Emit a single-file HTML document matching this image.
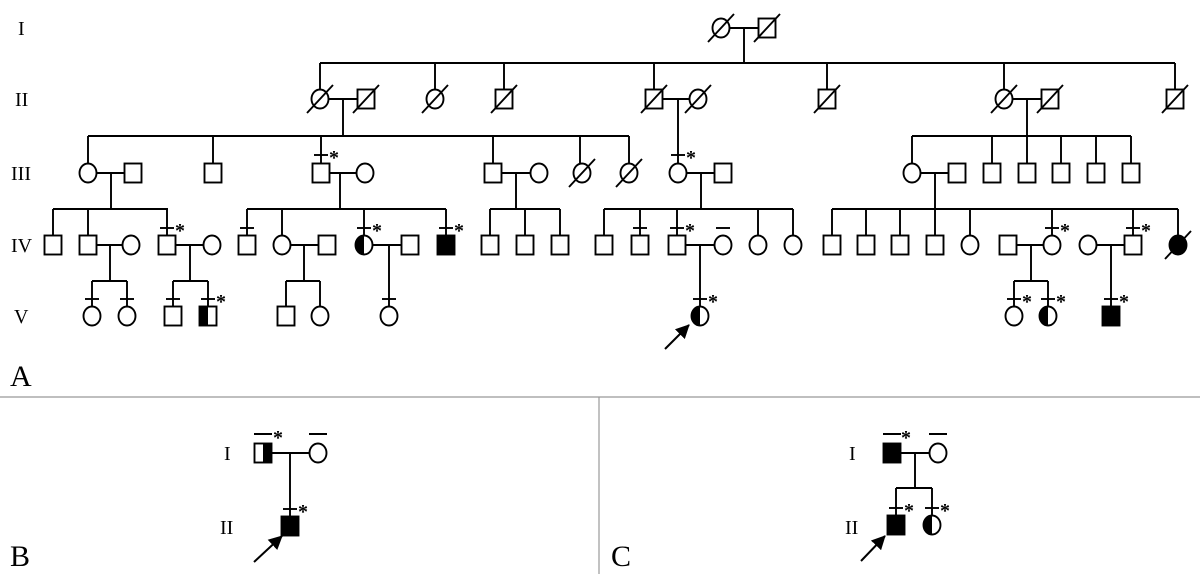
<!DOCTYPE html>
<html><head><meta charset="utf-8"><style>
html,body{margin:0;padding:0;background:#fff}
svg{display:block}
text{font-family:"Liberation Serif",serif;fill:#000}
.st{font-family:"Liberation Serif",serif;font-weight:bold;font-size:20px}
</style></head><body>
<svg width="1200" height="574" viewBox="0 0 1200 574" xmlns="http://www.w3.org/2000/svg">
<defs>
<rect id="S" x="-8.5" y="-9.5" width="17" height="19" fill="#fff" stroke="#000" stroke-width="1.9"/>
<rect id="SF" x="-8.5" y="-9.5" width="17" height="19" fill="#000" stroke="#000" stroke-width="1.9"/>
<ellipse id="C" rx="8.5" ry="9.5" fill="#fff" stroke="#000" stroke-width="1.9"/>
<ellipse id="CF" rx="8.5" ry="9.5" fill="#000" stroke="#000" stroke-width="1.9"/>
<g id="CH"><ellipse rx="8.5" ry="9.5" fill="#fff" stroke="#000" stroke-width="1.9"/><path d="M0,-9.5 A8.5,9.5 0 0 0 0,9.5 Z" fill="#000"/></g>
<g id="SH"><rect x="-8.5" y="-9.5" width="17" height="19" fill="#fff" stroke="#000" stroke-width="1.9"/><rect x="-8.5" y="-9.5" width="8.5" height="19" fill="#000"/></g>
<g id="SHR"><rect x="-8.5" y="-9.5" width="17" height="19" fill="#fff" stroke="#000" stroke-width="1.9"/><rect x="0" y="-9.5" width="8.5" height="19" fill="#000"/></g>
<line id="D" x1="-13" y1="14" x2="13" y2="-14" stroke="#000" stroke-width="1.9"/>
<line id="T" x1="-7" y1="-17" x2="7" y2="-17" stroke="#000" stroke-width="1.9"/>
<marker id="ah" markerWidth="14" markerHeight="14" refX="13" refY="7" orient="auto" markerUnits="userSpaceOnUse"><path d="M0,0 L14,7 L0,14 Z" fill="#000"/></marker>
</defs>

<g font-size="20">
<text x="18" y="35">I</text><text x="15" y="106">II</text><text x="11" y="180">III</text><text x="11" y="252">IV</text><text x="14" y="323">V</text>
</g>
<text x="10" y="386" font-size="30">A</text>
<text x="10" y="566" font-size="30">B</text>
<text x="611" y="566" font-size="30">C</text>
<line x1="0" y1="397" x2="1200" y2="397" stroke="#999" stroke-width="1.2"/>
<line x1="599" y1="397" x2="599" y2="574" stroke="#999" stroke-width="1.2"/>

<g stroke="#000" stroke-width="1.9" fill="none">
<path d="M729.5,28H758.5M744,28V63"/>
<path d="M320,63H1175M320,63V89.5M435,63V89.5M504,63V89.5M654,63V89.5M827,63V89.5M1004,63V89.5M1175,63V89.5"/>
<path d="M328.5,99H357.5M343,99V136M662.5,99H689.5M678,99V163.5M1012.5,99H1041.5M1027,99V136"/>
<path d="M88,136H629M88,136V163.5M213,136V163.5M321,136V163.5M493,136V163.5M580,136V163.5M629,136V163.5"/>
<path d="M912,136H1131M912,136V163.5M992,136V163.5M1027,136V163.5M1061,136V163.5M1096,136V163.5M1131,136V163.5"/>
<path d="M96.5,173H124.5M111,173V209M329.5,173H356.5M340,173V209M501.5,173H530.5M516,173V209M686.5,173H714.5M701,173V209M920.5,173H948.5M935,173V209"/>
<path d="M53,209H168M53,209V235.5M88,209V235.5M167,209V235.5"/>
<path d="M247,209H446M247,209V235.5M282,209V235.5M364,209V235.5M446,209V235.5"/>
<path d="M490,209H560M490,209V235.5M525,209V235.5M560,209V235.5"/>
<path d="M604,209H793M604,209V235.5M640,209V235.5M677,209V235.5M758,209V235.5M793,209V235.5"/>
<path d="M832,209H1178M832,209V235.5M866,209V235.5M900,209V235.5M935,209V235.5M970,209V235.5M1052,209V235.5M1133,209V235.5M1178,209V235.5"/>
<path d="M96.5,245H122.5M110,245V281M175.5,245H203.5M190,245V281M290.5,245H318.5M304,245V281M372.5,245H401.5M389,245V306.5M685.5,245H714.5M700,245V306.5M1016.5,245H1043.5M1031,245V281M1096.5,245H1124.5M1111,245V306.5"/>
<path d="M92,281H127M92,281V306.5M127,281V306.5M173,281H208M173,281V306.5M208,281V306.5M286,281H320M286,281V306.5M320,281V306.5M1014,281H1048M1014,281V306.5M1048,281V306.5"/>
<path d="M271.5,453H309.5M290,453V516.5M254,434H272M309,434H327"/>
<path d="M900.5,453H929.5M915,453V488M896,488H932M896,488V515.5M932,488V515.5M883,434H901M929,434H947"/>
</g>

<use href="#C" x="721" y="28"/><use href="#D" x="721" y="28"/>
<use href="#S" x="767" y="28"/><use href="#D" x="767" y="28"/>
<use href="#C" x="320" y="99"/><use href="#D" x="320" y="99"/>
<use href="#S" x="366" y="99"/><use href="#D" x="366" y="99"/>
<use href="#C" x="435" y="99"/><use href="#D" x="435" y="99"/>
<use href="#S" x="504" y="99"/><use href="#D" x="504" y="99"/>
<use href="#S" x="654" y="99"/><use href="#D" x="654" y="99"/>
<use href="#C" x="698" y="99"/><use href="#D" x="698" y="99"/>
<use href="#S" x="827" y="99"/><use href="#D" x="827" y="99"/>
<use href="#C" x="1004" y="99"/><use href="#D" x="1004" y="99"/>
<use href="#S" x="1050" y="99"/><use href="#D" x="1050" y="99"/>
<use href="#S" x="1175" y="99"/><use href="#D" x="1175" y="99"/>
<use href="#C" x="88" y="173"/><use href="#S" x="133" y="173"/>
<use href="#S" x="213" y="173"/>
<use href="#S" x="321" y="173"/><use href="#T" x="321" y="172"/><text class="st" x="329" y="164">*</text>
<use href="#C" x="365" y="173"/>
<use href="#S" x="493" y="173"/><use href="#C" x="539" y="173"/>
<use href="#C" x="582" y="173"/><use href="#D" x="582" y="173"/>
<use href="#C" x="629" y="173"/><use href="#D" x="629" y="173"/>
<use href="#C" x="678" y="173"/><use href="#T" x="678" y="172"/><text class="st" x="686" y="164">*</text>
<use href="#S" x="723" y="173"/>
<use href="#C" x="912" y="173"/><use href="#S" x="957" y="173"/>
<use href="#S" x="992" y="173"/><use href="#S" x="1027" y="173"/><use href="#S" x="1061" y="173"/><use href="#S" x="1096" y="173"/><use href="#S" x="1131" y="173"/>
<use href="#S" x="53" y="245"/><use href="#S" x="88" y="245"/><use href="#C" x="131" y="245"/>
<use href="#S" x="167" y="245"/><use href="#T" x="167" y="245"/><text class="st" x="175" y="237">*</text>
<use href="#C" x="212" y="245"/>
<use href="#S" x="247" y="245"/><use href="#T" x="247" y="245"/>
<use href="#C" x="282" y="245"/><use href="#S" x="327" y="245"/>
<use href="#CH" x="364" y="245"/><use href="#T" x="364" y="245"/><text class="st" x="372" y="237">*</text>
<use href="#S" x="410" y="245"/>
<use href="#SF" x="446" y="245"/><use href="#T" x="446" y="245"/><text class="st" x="454" y="237">*</text>
<use href="#S" x="490" y="245"/><use href="#S" x="525" y="245"/><use href="#S" x="560" y="245"/>
<use href="#S" x="604" y="245"/>
<use href="#S" x="640" y="245"/><use href="#T" x="640" y="245"/>
<use href="#S" x="677" y="245"/><use href="#T" x="677" y="245"/><text class="st" x="685" y="237">*</text>
<use href="#C" x="723" y="245"/><use href="#T" x="723" y="245"/>
<use href="#C" x="758" y="245"/><use href="#C" x="793" y="245"/>
<use href="#S" x="832" y="245"/><use href="#S" x="866" y="245"/><use href="#S" x="900" y="245"/><use href="#S" x="935" y="245"/>
<use href="#C" x="970" y="245"/>
<use href="#S" x="1008" y="245"/>
<use href="#C" x="1052" y="245"/><use href="#T" x="1052" y="245"/><text class="st" x="1060" y="237">*</text>
<use href="#C" x="1088" y="245"/>
<use href="#S" x="1133" y="245"/><use href="#T" x="1133" y="245"/><text class="st" x="1141" y="237">*</text>
<use href="#CF" x="1178" y="245"/><use href="#D" x="1178" y="245"/>
<use href="#C" x="92" y="316"/><use href="#T" x="92" y="316"/>
<use href="#C" x="127" y="316"/><use href="#T" x="127" y="316"/>
<use href="#S" x="173" y="316"/><use href="#T" x="173" y="316"/>
<use href="#SH" x="208" y="316"/><use href="#T" x="208" y="316"/><text class="st" x="216" y="308">*</text>
<use href="#S" x="286" y="316"/><use href="#C" x="320" y="316"/>
<use href="#C" x="389" y="316"/><use href="#T" x="389" y="316"/>
<use href="#CH" x="700" y="316"/><use href="#T" x="700" y="316"/><text class="st" x="708" y="308">*</text>
<use href="#C" x="1014" y="316"/><use href="#T" x="1014" y="316"/><text class="st" x="1022" y="308">*</text>
<use href="#CH" x="1048" y="316"/><use href="#T" x="1048" y="316"/><text class="st" x="1056" y="308">*</text>
<use href="#SF" x="1111" y="316"/><use href="#T" x="1111" y="316"/><text class="st" x="1119" y="308">*</text>
<line x1="665" y1="349" x2="689" y2="325" stroke="#000" stroke-width="2" marker-end="url(#ah)"/>

<g font-size="20"><text x="224" y="460">I</text><text x="220" y="534">II</text></g>
<use href="#SHR" x="263" y="453"/><use href="#C" x="318" y="453"/>
<text class="st" x="273" y="444">*</text>
<use href="#SF" x="290" y="526"/><use href="#T" x="290" y="526"/><text class="st" x="298" y="518">*</text>
<line x1="254" y1="562" x2="282" y2="536" stroke="#000" stroke-width="2" marker-end="url(#ah)"/>

<g font-size="20"><text x="849" y="460">I</text><text x="845" y="534">II</text></g>
<use href="#SF" x="892" y="453"/><use href="#C" x="938" y="453"/>
<text class="st" x="901" y="444">*</text>
<use href="#SF" x="896" y="525"/><use href="#T" x="896" y="525"/><text class="st" x="904" y="517">*</text>
<use href="#CH" x="932" y="525"/><use href="#T" x="932" y="525"/><text class="st" x="940" y="517">*</text>
<line x1="861" y1="561" x2="885" y2="536" stroke="#000" stroke-width="2" marker-end="url(#ah)"/>
</svg>
</body></html>
